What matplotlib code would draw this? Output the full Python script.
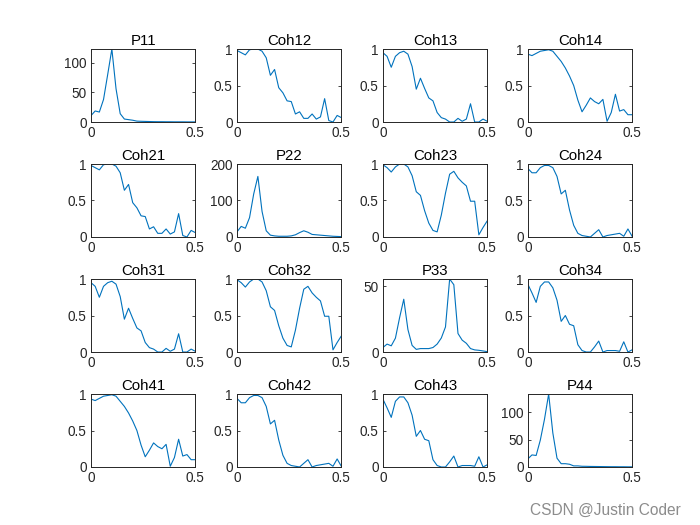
import numpy as np
import matplotlib
matplotlib.use("Agg")
import matplotlib.pyplot as plt

plt.rcParams['font.family'] = ['Liberation Sans', 'DejaVu Sans']

freq = np.arange(26) * 0.02

P11 = [10.8, 18.6, 16.8, 37.9, 80, 123, 56, 14, 5, 4, 3, 1.5, 1.2, 1.0, 0.8, 0.6,
       0.5, 0.5, 0.4, 0.4, 0.3, 0.3, 0.3, 0.2, 0.2, 0.2]
P22 = [14, 29, 24, 53, 118, 166, 70, 17, 5, 3, 2, 2, 2, 3, 6, 12, 17, 13, 7, 6,
       5, 4, 3, 2, 1.5, 1]
P33 = [3.4, 6, 4.7, 10.5, 26, 40, 17, 5, 2, 2.6, 2.6, 2.6, 3.4, 6, 10.6, 19, 55.3,
       51, 14, 9, 6.6, 2.6, 1.6, 1.3, 0.8, 0.3]
P44 = [14.6, 22, 21, 49, 87, 133, 62, 16, 6, 6, 5, 2, 2, 1.3, 1.2, 1.0, 0.9, 0.8,
       0.7, 0.6, 0.5, 0.5, 0.4, 0.4, 0.3, 0.3]

C12 = [0.98, 0.95, 0.92, 0.99, 1.0, 1.0, 0.97, 0.88, 0.64, 0.72, 0.47, 0.40, 0.29,
       0.28, 0.11, 0.14, 0.05, 0.05, 0.11, 0.04, 0.07, 0.32, 0.02, 0.0, 0.09, 0.06]
C13 = [0.95, 0.90, 0.75, 0.90, 0.95, 0.97, 0.93, 0.76, 0.45, 0.60, 0.46, 0.33, 0.29,
       0.13, 0.06, 0.04, 0.0, 0.0, 0.05, 0.01, 0.04, 0.25, 0.0, 0.0, 0.04, 0.01]
C14 = [0.93, 0.91, 0.94, 0.97, 0.98, 0.99, 0.97, 0.90, 0.83, 0.74, 0.63, 0.50, 0.30,
       0.14, 0.23, 0.33, 0.28, 0.25, 0.31, 0.01, 0.13, 0.38, 0.15, 0.17, 0.10, 0.10]
C23 = [0.99, 0.95, 0.89, 0.96, 1.0, 1.0, 0.96, 0.84, 0.62, 0.57, 0.36, 0.19, 0.09,
       0.07, 0.30, 0.60, 0.86, 0.90, 0.81, 0.75, 0.70, 0.49, 0.49, 0.03, 0.13, 0.22]
C24 = [0.94, 0.88, 0.88, 0.95, 0.98, 0.98, 0.95, 0.83, 0.59, 0.64, 0.37, 0.16, 0.05,
       0.02, 0.01, 0.0, 0.05, 0.10, 0.0, 0.02, 0.03, 0.04, 0.05, 0.01, 0.11, 0.01]
C34 = [0.93, 0.81, 0.68, 0.90, 0.96, 0.96, 0.88, 0.71, 0.42, 0.50, 0.38, 0.36, 0.10,
       0.02, 0.0, 0.0, 0.07, 0.15, 0.0, 0.02, 0.02, 0.02, 0.01, 0.14, 0.0, 0.03]

titles = [["P11", "Coh12", "Coh13", "Coh14"],
          ["Coh21", "P22", "Coh23", "Coh24"],
          ["Coh31", "Coh32", "P33", "Coh34"],
          ["Coh41", "Coh42", "Coh43", "P44"]]
data = [[P11, C12, C13, C14],
        [C12, P22, C23, C24],
        [C13, C23, P33, C34],
        [C14, C24, C34, P44]]
ylims = {"P11": (0, 123), "P22": (0, 200), "P33": (0, 55.3), "P44": (0, 133)}
yticks = {"P11": [0, 50, 100], "P22": [0, 100, 200], "P33": [0, 50], "P44": [0, 50, 100]}

fig = plt.figure(figsize=(7, 5.25), dpi=100)
lefts = [0.130, 0.3386, 0.547, 0.754]
bottoms = [0.7676, 0.5486, 0.3295, 0.1105]
w, h = 0.149, 0.139

for i in range(4):
    for j in range(4):
        ax = fig.add_axes([lefts[j], bottoms[i], w, h])
        t = titles[i][j]
        ax.plot(freq, data[i][j], color='#0072BD', lw=0.8)
        ax.set_xlim(0, 0.5)
        ax.set_xticks([0, 0.5])
        ax.set_xticklabels(["0", "0.5"])
        if t in ylims:
            ax.set_ylim(*ylims[t])
            ax.set_yticks(yticks[t])
            ax.set_yticklabels([str(v) for v in yticks[t]])
        else:
            ax.set_ylim(0, 1)
            ax.set_yticks([0, 0.5, 1])
            ax.set_yticklabels(["0", "0.5", "1"])
        ax.tick_params(direction='in', length=2.5, width=0.6, top=True, right=True,
                       labelsize=9.8, colors='#262626', pad=3)
        for s in ax.spines.values():
            s.set_linewidth(0.7)
            s.set_color('#262626')
        ax.set_title(t, fontsize=10.8, pad=3, color='black')

fig.text(0.972, 0.028, "CSDN @Justin Coder", ha='right', va='center',
         fontsize=11.2, color='#8c8c8c')

fig.savefig("out.png", dpi=100)
